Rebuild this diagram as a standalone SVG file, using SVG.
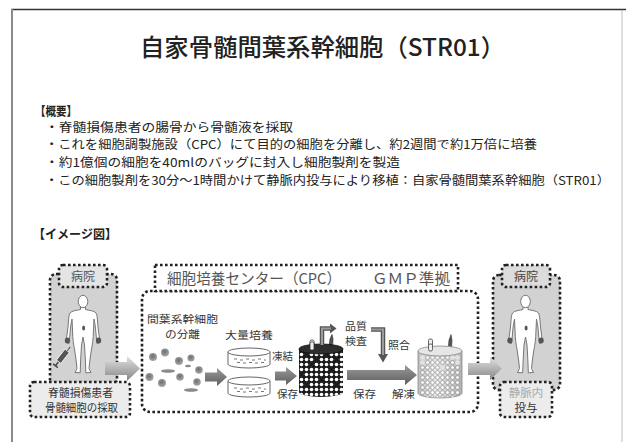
<svg xmlns="http://www.w3.org/2000/svg" width="626" height="442" viewBox="0 0 626 442">
  <style>
    .jp { font-family: "Noto Sans CJK JP", "Noto Sans", sans-serif; }
    .title { font-size: 24px; font-weight: 500; fill: #222; }
    .head { font-size: 12.5px; font-weight: 700; fill: #222; }
    .body { font-size: 12px; fill: #222; }
    .lbl { font-size: 10.5px; fill: #333; }
    .dot { fill: none; stroke: #222; stroke-width: 2.6; stroke-dasharray: 2.6 2.4; }
    .fig { fill: #fff; stroke: #777; stroke-width: 1; }
    .mark { fill: #555; }
    .blk { fill: url(#blkGrad); }
    .big { fill: url(#bigGrad); }
    .elb-out { fill: none; stroke: #555; stroke-width: 4.5; }
    .elb-in { fill: none; stroke: #9a9a9a; stroke-width: 2; }
    .dish { fill: #fff; stroke: #555; stroke-width: 0.9; }
    .cell { fill: url(#cellGrad); }
    .spindle { fill: #8a8a8a; }
    .gapD { fill: #1c1c1c; }
    .gapL { fill: #e2e2e2; }
  </style>
  <defs>
    <linearGradient id="blkGrad" x1="0" y1="0" x2="0" y2="1">
      <stop offset="0" stop-color="#9a9a9a"/>
      <stop offset="1" stop-color="#5e5e5e"/>
    </linearGradient>
    <linearGradient id="bigGrad" x1="0" y1="0" x2="0" y2="1">
      <stop offset="0" stop-color="#e0e0e0"/>
      <stop offset="0.5" stop-color="#b4b4b4"/>
      <stop offset="1" stop-color="#858585"/>
    </linearGradient>
    <radialGradient id="cellGrad" cx="0.45" cy="0.4" r="0.6">
      <stop offset="0" stop-color="#6e6e6e"/>
      <stop offset="1" stop-color="#a8a8a8"/>
    </radialGradient>
    <linearGradient id="lightTank" x1="0" y1="0" x2="1" y2="0">
      <stop offset="0" stop-color="#bdbdbd"/>
      <stop offset="0.4" stop-color="#ececec"/>
      <stop offset="1" stop-color="#b0b0b0"/>
    </linearGradient>
    <pattern id="darkDots" x="299" y="352" width="5" height="5" patternUnits="userSpaceOnUse">
      <circle cx="2.5" cy="2.5" r="1.8" fill="#fff"/>
    </pattern>
    <pattern id="lightDots" x="420" y="355" width="5" height="5" patternUnits="userSpaceOnUse">
      <circle cx="2.5" cy="2.5" r="1.9" fill="#fff" stroke="#777" stroke-width="0.6"/>
    </pattern>
    <clipPath id="darkBody">
      <path d="M299 349 L299 392 A22 5 0 0 0 343 392 L343 349 Z"/>
    </clipPath>
    <clipPath id="lightBody">
      <path d="M418 351 L418 393 A22 5 0 0 0 462 393 L462 351 Z"/>
    </clipPath>
    <!-- standing human outline, origin at top of head -->
    <g id="person">
      <path class="fig" d="M-2.5 12 L-2.5 14.5 C-6 15.5 -11 15.5 -13 18 C-14.5 20.5 -14.5 27 -15 32 L-16.3 42 L-17.2 47 L-14 48.5 L-13.3 42 L-12.4 32 L-11 24 L-10.4 37 C-10.4 43 -9.4 50 -8.2 56 L-6.8 66 L-6 73.5 L-8 77.5 L-2.8 77.8 L-2.4 66 L-1.5 50 L0 42 L1.5 50 L2.4 66 L2.8 77.8 L8 77.5 L6 73.5 L6.8 66 L8.2 56 C9.4 50 10.4 43 10.4 37 L11 24 L12.4 32 L13.3 42 L14 48.5 L17.2 47 L16.3 42 L15 32 C14.5 27 14.5 20.5 13 18 C11 15.5 6 15.5 2.5 14.5 L2.5 12 Z"/>
      <ellipse class="fig" cx="0" cy="6.5" rx="4.8" ry="6.2"/>
      <ellipse class="mark" cx="-15.6" cy="45.5" rx="2.6" ry="3"/>
      <ellipse class="mark" cx="15.6" cy="45.5" rx="2.6" ry="3"/>
      <ellipse class="mark" cx="0.6" cy="33" rx="1.5" ry="2.6"/>
    </g>
  </defs>

  <!-- page frame -->
  <line x1="11" y1="9.5" x2="626" y2="9.5" stroke="#333" stroke-width="1.3"/>
  <line x1="12" y1="9" x2="12" y2="442" stroke="#8a8a8a" stroke-width="2"/>
  <line x1="622" y1="10" x2="622" y2="442" stroke="#bdbdbd" stroke-width="1"/>

  <!-- title -->
  <text class="jp title" x="140" y="56" textLength="365" lengthAdjust="spacingAndGlyphs">自家骨髄間葉系幹細胞（STR01）</text>

  <!-- overview -->
  <text class="jp head" x="35" y="115.5" textLength="42" lengthAdjust="spacingAndGlyphs">【概要】</text>
  <text class="jp body" x="45" y="131.5" textLength="248" lengthAdjust="spacingAndGlyphs">・脊髄損傷患者の腸骨から骨髄液を採取</text>
  <text class="jp body" x="45" y="149" textLength="492" lengthAdjust="spacingAndGlyphs">・これを細胞調製施設（CPC）にて目的の細胞を分離し、約2週間で約1万倍に培養</text>
  <text class="jp body" x="45" y="167" textLength="355" lengthAdjust="spacingAndGlyphs">・約1億個の細胞を40mlのバッグに封入し細胞製剤を製造</text>
  <text class="jp body" x="45" y="184.5" textLength="565" lengthAdjust="spacingAndGlyphs">・この細胞製剤を30分～1時間かけて静脈内投与により移植：自家骨髄間葉系幹細胞（STR01）</text>

  <text class="jp head" x="33" y="239" textLength="84" lengthAdjust="spacingAndGlyphs">【イメージ図】</text>

  <!-- hospital (collection) -->
  <g id="hospital-left">
    <rect x="50" y="274" width="67" height="111" rx="6" fill="#d2d2d2"/>
    <rect class="dot" x="50" y="274" width="67" height="111" rx="6"/>
    <use href="#person" x="83" y="295"/>
    <g transform="translate(63.5,355.5) rotate(-52)">
      <line x1="-13" y1="0" x2="-8" y2="0" stroke="#444" stroke-width="1.4"/>
      <line x1="-13" y1="-3" x2="-13" y2="3" stroke="#444" stroke-width="1.4"/>
      <rect x="-8" y="-2.8" width="14" height="5.6" rx="1" fill="#555" stroke="#fff" stroke-width="0.8"/>
      <line x1="6" y1="0" x2="11" y2="0" stroke="#555" stroke-width="1"/>
    </g>
    <rect x="59" y="265" width="48" height="22" rx="4" fill="#e4e4e4"/>
    <rect class="dot" x="59" y="265" width="48" height="22" rx="4"/>
    <text class="jp" x="83" y="280.5" font-size="12" text-anchor="middle" fill="#555">病院</text>
  </g>
  <g id="label-collection">
    <rect x="30" y="382" width="100" height="35" rx="4" fill="#ececec"/>
    <rect class="dot" x="30" y="382" width="100" height="35" rx="4"/>
    <text class="jp" font-size="11" fill="#333" x="48" y="397" textLength="65" lengthAdjust="spacingAndGlyphs">脊髄損傷患者</text>
    <text class="jp" font-size="11" fill="#333" x="45" y="411.5" textLength="73" lengthAdjust="spacingAndGlyphs">骨髄細胞の採取</text>
  </g>

  <!-- cell processing center -->
  <g id="cpc">
    <rect x="142" y="291" width="336" height="121" rx="8" fill="#fff"/>
    <rect class="dot" x="142" y="291" width="336" height="121" rx="8"/>
    <rect x="155" y="265" width="303" height="26" fill="#fff"/>
    <rect class="dot" x="155" y="265" width="303" height="26"/>
    <text class="jp" x="167" y="284" font-size="15" fill="#555" textLength="174" lengthAdjust="spacingAndGlyphs">細胞培養センター（CPC）</text>
    <text class="jp" x="372" y="284" font-size="15" fill="#555" textLength="78" lengthAdjust="spacingAndGlyphs">ＧＭＰ準拠</text>
  </g>

  <g id="separation">
    <text class="jp lbl" x="147" y="323" textLength="71" lengthAdjust="spacingAndGlyphs">間葉系幹細胞</text>
    <text class="jp lbl" x="165" y="337.5" textLength="35" lengthAdjust="spacingAndGlyphs">の分離</text>
    <circle class="cell" cx="153" cy="357" r="4"/>
    <circle class="cell" cx="165" cy="352.5" r="4"/>
    <circle class="cell" cx="179" cy="361" r="4"/>
    <circle class="cell" cx="191" cy="358" r="3.6"/>
    <circle class="cell" cx="199" cy="370" r="3.8"/>
    <circle class="cell" cx="149.5" cy="377" r="4"/>
    <circle class="cell" cx="162" cy="383" r="4"/>
    <circle class="cell" cx="180" cy="377" r="3.8"/>
    <circle class="cell" cx="197" cy="382" r="3.8"/>
    <ellipse class="spindle" cx="168" cy="371" rx="7" ry="1.8"/>
    <ellipse class="spindle" cx="191" cy="390" rx="7" ry="1.8"/>
    <ellipse class="spindle" cx="188" cy="366" rx="3" ry="1.2"/>
  </g>

  <g id="culture">
    <text class="jp lbl" x="225" y="339" textLength="48" lengthAdjust="spacingAndGlyphs">大量培養</text>
    <path class="dish" d="M228 352 L228 364 A21 4 0 0 0 270 364 L270 352"/>
    <ellipse class="dish" cx="249" cy="352" rx="21" ry="4"/>
    <path d="M234 359 h3 M240 360 h3 M246 359 h3 M252 360 h3 M258 359 h3 M264 360 h2 M237 362.5 h3 M243 363 h3 M249 362.5 h3 M255 363 h3 M261 362.5 h3" stroke="#777" stroke-width="1"/>
    <path class="dish" d="M228 381 L228 393 A21 4 0 0 0 270 393 L270 381"/>
    <ellipse class="dish" cx="249" cy="381" rx="21" ry="4"/>
    <path d="M234 388 h3 M240 389 h3 M246 388 h3 M252 389 h3 M258 388 h3 M264 389 h2 M237 391.5 h3 M243 392 h3 M249 391.5 h3 M255 392 h3 M261 391.5 h3" stroke="#777" stroke-width="1"/>
    <text class="jp lbl" x="272" y="360" textLength="21" lengthAdjust="spacingAndGlyphs">凍結</text>
    <text class="jp lbl" x="277" y="397.5" textLength="21" lengthAdjust="spacingAndGlyphs">保存</text>
  </g>

  <g id="frozen-tank">
    <rect x="310" y="340" width="4" height="12" rx="1.5" fill="#eee" stroke="#333" stroke-width="0.8"/>
    <path d="M329 348 L330 339 L332 334.5 L333 339 L332.5 348 Z" fill="#555" stroke="#222" stroke-width="0.6"/>
    <path d="M299 349 L299 392 A22 5 0 0 0 343 392 L343 349 Z" fill="#1c1c1c"/>
    <rect x="299" y="352" width="44" height="46" fill="url(#darkDots)" clip-path="url(#darkBody)"/>
    <circle class="gapD" cx="306.5" cy="354.5" r="2.2"/>
    <circle class="gapD" cx="326.5" cy="354.5" r="2.2"/>
    <circle class="gapD" cx="336.5" cy="359.5" r="2.2"/>
    <circle class="gapD" cx="316.5" cy="359.5" r="2.2"/>
    <circle class="gapD" cx="311.5" cy="364.5" r="2.2"/>
    <circle class="gapD" cx="331.5" cy="369.5" r="2.2"/>
    <circle class="gapD" cx="301.5" cy="374.5" r="2.2"/>
    <circle class="gapD" cx="321.5" cy="379.5" r="2.2"/>
    <circle class="gapD" cx="306.5" cy="384.5" r="2.2"/>
    <circle class="gapD" cx="336.5" cy="384.5" r="2.2"/>
    <ellipse cx="321" cy="349" rx="22" ry="5" fill="#2e2e2e" stroke="#111" stroke-width="0.8"/>
    <rect x="310" y="342" width="4" height="8" rx="1.5" fill="#eee" stroke="#333" stroke-width="0.8"/>
    <text class="jp lbl" x="345" y="330" textLength="22" lengthAdjust="spacingAndGlyphs">品質</text>
    <text class="jp lbl" x="345" y="344.5" textLength="22" lengthAdjust="spacingAndGlyphs">検査</text>
    <text class="jp lbl" x="388" y="349" textLength="22" lengthAdjust="spacingAndGlyphs">照合</text>
    <text class="jp lbl" x="353" y="397.5" textLength="23" lengthAdjust="spacingAndGlyphs">保存</text>
    <text class="jp lbl" x="392" y="397.5" textLength="23" lengthAdjust="spacingAndGlyphs">解凍</text>
  </g>

  <g id="thawed-tank">
    <rect x="428.5" y="339" width="4" height="12" rx="1.5" fill="#eee" stroke="#444" stroke-width="0.8"/>
    <path d="M448 350 L449 340 L451 334.5 L452 340 L451.5 350 Z" fill="#555" stroke="#333" stroke-width="0.6"/>
    <path d="M418 351 L418 393 A22 5 0 0 0 462 393 L462 351 Z" fill="url(#lightTank)" stroke="#888" stroke-width="0.8"/>
    <rect x="420" y="355" width="40" height="42" fill="url(#lightDots)" clip-path="url(#lightBody)"/>
    <circle class="gapL" cx="422.5" cy="357.5" r="2.5"/>
    <circle class="gapL" cx="452.5" cy="357.5" r="2.5"/>
    <circle class="gapL" cx="457.5" cy="357.5" r="2.5"/>
    <circle class="gapL" cx="457.5" cy="362.5" r="2.5"/>
    <circle class="gapL" cx="422.5" cy="362.5" r="2.5"/>
    <circle class="gapL" cx="442.5" cy="367.5" r="2.5"/>
    <ellipse cx="440" cy="351" rx="22" ry="5" fill="#e6e6e6" stroke="#888" stroke-width="0.8"/>
    <rect x="428.5" y="344" width="4" height="7" rx="1.5" fill="#eee" stroke="#444" stroke-width="0.8"/>
  </g>

  <!-- hospital (administration) -->
  <g id="hospital-right">
    <rect x="493" y="275" width="67" height="115" rx="6" fill="#d2d2d2"/>
    <rect class="dot" x="493" y="275" width="67" height="115" rx="6"/>
    <use href="#person" x="525.5" y="295"/>
    <rect x="502" y="265" width="48" height="22" rx="4" fill="#dcdcdc"/>
    <rect class="dot" x="502" y="265" width="48" height="22" rx="4"/>
    <text class="jp" x="526" y="280.5" font-size="12" text-anchor="middle" fill="#444">病院</text>
  </g>
  <g id="label-infusion">
    <rect x="500" y="382" width="52" height="35" rx="4" fill="#ececec"/>
    <rect class="dot" x="500" y="382" width="52" height="35" rx="4"/>
    <text class="jp" font-size="11.5" x="526" y="397" text-anchor="middle" fill="#aaa">静脈内</text>
    <text class="jp" font-size="11.5" x="526" y="411.5" text-anchor="middle" fill="#333">投与</text>
  </g>

  <!-- connectors -->
  <g id="connectors">
    <path class="big" d="M105 362 L127 362 L127 356 L140 368.5 L127 381 L127 375 L105 375 Z"/>
    <path class="big" d="M468 363 L490 363 L490 357 L502 368.5 L490 380 L490 375 L468 375 Z"/>
    <path class="blk" d="M205 372.5 L217 372.5 L217 368 L227 377 L217 386 L217 381.5 L205 381.5 Z"/>
    <path class="blk" d="M275 371.5 L286 371.5 L286 367 L297 376 L286 385 L286 380.5 L275 380.5 Z"/>
    <path class="blk" d="M347 370 L405 370 L405 365 L417 375 L405 385 L405 380 L347 380 Z"/>
    <polyline class="elb-out" points="322,345 322,328.5 331,328.5"/>
    <polygon fill="#555" points="330,323.5 336.5,328.5 330,333.5"/>
    <polyline class="elb-in" points="322,345 322,328.5 331,328.5"/>
    <polyline class="elb-out" points="371,329.5 383,329.5 383,355"/>
    <polygon fill="#555" points="378,354 383,362.5 388,354"/>
    <polyline class="elb-in" points="371,329.5 383,329.5 383,355"/>
  </g>
</svg>
